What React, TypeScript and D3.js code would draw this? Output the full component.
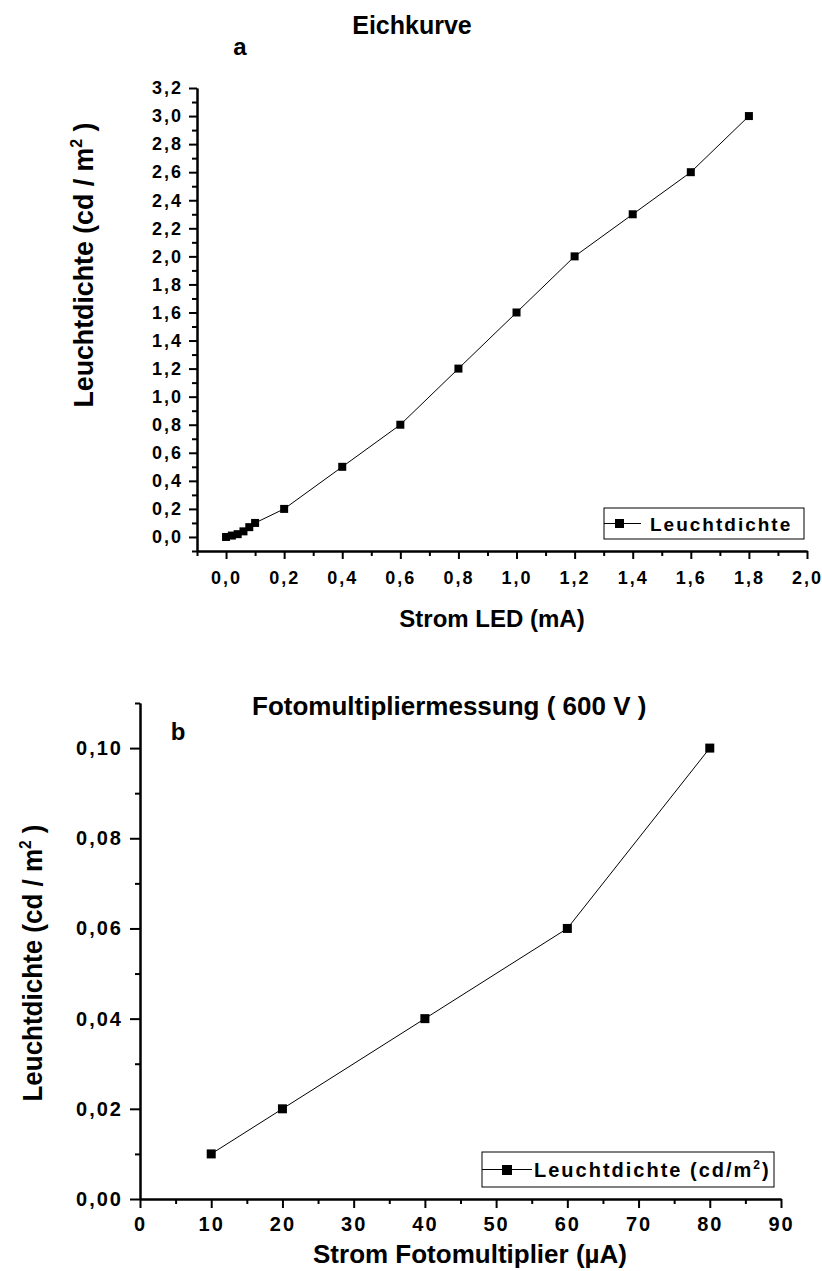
import React, { useRef, useEffect } from 'react';
import * as d3 from 'd3';

// Panel a: Eichkurve (LED current vs. luminance)
const ledCurrent = [0, 0.02, 0.04, 0.06, 0.08, 0.1, 0.2, 0.4, 0.6, 0.8, 1.0, 1.2, 1.4, 1.6, 1.8];
const ledLuminance = [0, 0.01, 0.02, 0.04, 0.07, 0.1, 0.2, 0.5, 0.8, 1.2, 1.6, 2.0, 2.3, 2.6, 3.0];

// Panel b: Fotomultipliermessung (600 V)
const pmCurrent = [10, 20, 40, 60, 80];
const pmLuminance = [0.01, 0.02, 0.04, 0.06, 0.1];

const ledXTicks = [0, 0.2, 0.4, 0.6, 0.8, 1.0, 1.2, 1.4, 1.6, 1.8, 2.0];
const ledYTicks = [0, 0.2, 0.4, 0.6, 0.8, 1.0, 1.2, 1.4, 1.6, 1.8, 2.0, 2.2, 2.4, 2.6, 2.8, 3.0, 3.2];
const pmXTicks = [0, 10, 20, 30, 40, 50, 60, 70, 80, 90];
const pmYTicks = [0, 0.02, 0.04, 0.06, 0.08, 0.1];

const FONT = '"Liberation Sans", Arial, Helvetica, sans-serif';
const W = 822;
const H = 1271;

const comma = (digits: number) => (v: number) => d3.format(`.${digits}f`)(v).replace('.', ',');

type Sel = d3.Selection<SVGGElement, unknown, null, undefined>;

const styleAxis = (g: Sel, fontSize: number, spacing: number) => {
  g.select('.domain').attr('stroke', '#000').attr('stroke-width', 2);
  g.selectAll('.tick line').attr('stroke', '#000').attr('stroke-width', 2);
  g.selectAll('.tick text')
    .attr('fill', '#000')
    .style('font-family', FONT)
    .style('font-weight', 'bold')
    .style('font-size', `${fontSize}px`)
    .style('letter-spacing', `${spacing}px`);
};

const label = (
  parent: any,
  txt: string,
  x: number,
  y: number,
  size: number,
  anchor = 'middle',
  rotate = 0
) =>
  parent
    .append('text')
    .attr('transform', `translate(${x},${y}) rotate(${rotate})`)
    .attr('text-anchor', anchor)
    .style('font-family', FONT)
    .style('font-weight', 'bold')
    .style('font-size', `${size}px`)
    .text(txt);

// "Leuchtdichte (cd / m²)" written vertically, squeezed to the measured length
const yTitle = (parent: any, x: number, y: number, size: number, len: number) => {
  const t = label(parent, 'Leuchtdichte (cd / m', x, y, size, 'middle', -90)
    .attr('textLength', len)
    .attr('lengthAdjust', 'spacingAndGlyphs');
  t.append('tspan').attr('dy', -size * 0.4).style('font-size', `${size * 0.6}px`).text('2');
  t.append('tspan').attr('dy', size * 0.4).text(' )');
  return t;
};

const App = () => {
  const svgRef = useRef<SVGSVGElement>(null);

  useEffect(() => {
    const svg = d3.select(svgRef.current);
    svg.selectAll('*').remove();

    // ---------- panel a ----------
    const xA = d3.scaleLinear().domain([-0.1, 2.0]).range([197, 807]);
    const yA = d3.scaleLinear().domain([-0.1, 3.2]).range([551, 88]);
    const gA = svg.append('g');

    const xMinorA = d3.range(-1, 20, 2).map(i => i / 10);
    const yMinorA = d3.range(-1, 32, 2).map(i => i / 10);

    gA.append('g').attr('transform', 'translate(0,551)')
      .call(d3.axisBottom(xA).tickValues(xMinorA).tickSize(5).tickSizeOuter(0).tickFormat(() => ''))
      .call(g => styleAxis(g, 18, 2));
    gA.append('g').attr('transform', 'translate(0,551)')
      .call(d3.axisBottom(xA).tickValues(ledXTicks).tickSize(8).tickSizeOuter(0).tickPadding(12).tickFormat(comma(1)))
      .call(g => styleAxis(g, 18, 2));
    gA.append('g').attr('transform', 'translate(197,0)')
      .call(d3.axisLeft(yA).tickValues(yMinorA).tickSize(5).tickSizeOuter(0).tickFormat(() => ''))
      .call(g => styleAxis(g, 18, 2));
    gA.append('g').attr('transform', 'translate(197,0)')
      .call(d3.axisLeft(yA).tickValues(ledYTicks).tickSize(8).tickSizeOuter(0).tickPadding(6).tickFormat(comma(1)))
      .call(g => styleAxis(g, 18, 2));

    const ledPts = ledCurrent.map((c, i) => [c, ledLuminance[i]] as [number, number]);
    gA.append('path')
      .datum(ledPts)
      .attr('fill', 'none')
      .attr('stroke', '#000')
      .attr('stroke-width', 1)
      .attr('d', d3.line<[number, number]>().x(d => xA(d[0])).y(d => yA(d[1])));
    gA.selectAll('rect.pt')
      .data(ledPts)
      .enter()
      .append('rect')
      .attr('class', 'pt')
      .attr('x', d => xA(d[0]) - 4)
      .attr('y', d => yA(d[1]) - 4)
      .attr('width', 8)
      .attr('height', 8)
      .attr('fill', '#000');

    label(gA, 'Eichkurve', 412, 34, 25);
    label(gA, 'a', 240, 55, 24);
    label(gA, 'Strom LED (mA)', 492, 627, 24);
    yTitle(gA, 93, 265, 28, 285);

    // legend a
    gA.append('rect').attr('x', 604).attr('y', 508).attr('width', 200).attr('height', 31)
      .attr('fill', '#fff').attr('stroke', '#000').attr('stroke-width', 1);
    gA.append('line').attr('x1', 604).attr('x2', 641).attr('y1', 523.5).attr('y2', 523.5).attr('stroke', '#000');
    gA.append('rect').attr('x', 615).attr('y', 519).attr('width', 9).attr('height', 9).attr('fill', '#000');
    label(gA, 'Leuchtdichte', 650, 531, 19, 'start').style('letter-spacing', '2px');

    // ---------- panel b ----------
    const xB = d3.scaleLinear().domain([0, 90]).range([140, 781]);
    const yB = d3.scaleLinear().domain([0, 0.11]).range([1199, 703]);
    const gB = svg.append('g');

    const xMinorB = d3.range(5, 90, 10);
    const yMinorB = d3.range(1, 12, 2).map(i => i / 100);

    gB.append('g').attr('transform', 'translate(0,1199)')
      .call(d3.axisBottom(xB).tickValues(xMinorB).tickSize(5).tickSizeOuter(0).tickFormat(() => ''))
      .call(g => styleAxis(g, 20, 2));
    gB.append('g').attr('transform', 'translate(0,1199)')
      .call(d3.axisBottom(xB).tickValues(pmXTicks).tickSize(9).tickSizeOuter(0).tickPadding(9).tickFormat(d3.format('d')))
      .call(g => styleAxis(g, 20, 2));
    gB.append('g').attr('transform', 'translate(140,0)')
      .call(d3.axisLeft(yB).tickValues(yMinorB).tickSize(5).tickSizeOuter(0).tickFormat(() => ''))
      .call(g => styleAxis(g, 20, 2));
    gB.append('g').attr('transform', 'translate(140,0)')
      .call(d3.axisLeft(yB).tickValues(pmYTicks).tickSize(10).tickSizeOuter(0).tickPadding(7).tickFormat(comma(2)))
      .call(g => styleAxis(g, 20, 2));

    const pmPts = pmCurrent.map((c, i) => [c, pmLuminance[i]] as [number, number]);
    gB.append('path')
      .datum(pmPts)
      .attr('fill', 'none')
      .attr('stroke', '#000')
      .attr('stroke-width', 1)
      .attr('d', d3.line<[number, number]>().x(d => xB(d[0])).y(d => yB(d[1])));
    gB.selectAll('rect.pt')
      .data(pmPts)
      .enter()
      .append('rect')
      .attr('class', 'pt')
      .attr('x', d => xB(d[0]) - 4.5)
      .attr('y', d => yB(d[1]) - 4.5)
      .attr('width', 9)
      .attr('height', 9)
      .attr('fill', '#000');

    label(gB, 'Fotomultipliermessung ( 600 V )', 252, 715, 26, 'start');
    label(gB, 'b', 178, 740, 24);
    label(gB, 'Strom Fotomultiplier (\u00b5A)', 470, 1263, 26);
    yTitle(gB, 42, 963, 28, 277);

    // legend b
    gB.append('rect').attr('x', 482).attr('y', 1152).attr('width', 292).attr('height', 35)
      .attr('fill', '#fff').attr('stroke', '#000').attr('stroke-width', 1);
    gB.append('line').attr('x1', 482).attr('x2', 532).attr('y1', 1169.5).attr('y2', 1169.5).attr('stroke', '#000');
    gB.append('rect').attr('x', 502).attr('y', 1165).attr('width', 10).attr('height', 10).attr('fill', '#000');
    const legB = label(gB, 'Leuchtdichte (cd/m', 534, 1177, 20, 'start').style('letter-spacing', '2px');
    legB.append('tspan').attr('dy', -8).style('font-size', '12px').text('2');
    legB.append('tspan').attr('dy', 8).text(')');
  }, []);

  return (
    <svg
      ref={svgRef}
      width={W}
      height={H}
      style={{ position: 'absolute', left: 0, top: 0, background: '#fff' }}
    />
  );
};

export default App;
